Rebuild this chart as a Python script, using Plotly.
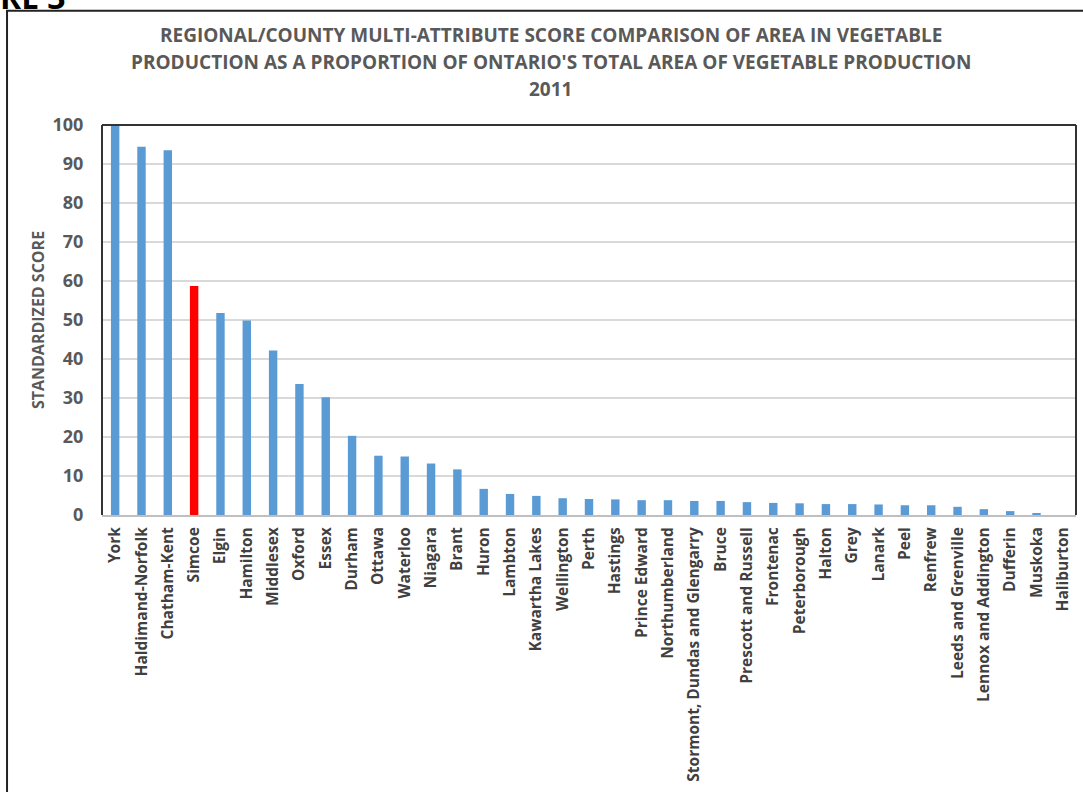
import plotly.graph_objects as go

regions = ["York", "Haldimand-Norfolk", "Chatham-Kent", "Simcoe", "Elgin", "Hamilton",
           "Middlesex", "Oxford", "Essex", "Durham", "Ottawa", "Waterloo", "Niagara",
           "Brant", "Huron", "Lambton", "Kawartha Lakes", "Wellington", "Perth",
           "Hastings", "Prince Edward", "Northumberland", "Stormont, Dundas and Glengarry",
           "Bruce", "Prescott and Russell", "Frontenac", "Peterborough", "Halton", "Grey",
           "Lanark", "Peel", "Renfrew", "Leeds and Grenville", "Lennox and Addington",
           "Dufferin", "Muskoka", "Haliburton"]
scores = [100, 94.4, 93.5, 58.7, 51.8, 49.9, 42.2, 33.6, 30.2, 20.3, 15.2, 15.0, 13.2,
          11.7, 6.7, 5.4, 4.9, 4.3, 4.1, 4.0, 3.8, 3.8, 3.6, 3.6, 3.3, 3.1, 3.0, 2.8,
          2.8, 2.7, 2.5, 2.5, 2.1, 1.5, 1.0, 0.3, 0.0]
highlight = "Simcoe"
y_ticks = [0, 10, 20, 30, 40, 50, 60, 70, 80, 90, 100]
title_lines = ["REGIONAL/COUNTY MULTI-ATTRIBUTE SCORE COMPARISON OF AREA IN VEGETABLE",
               "PRODUCTION AS A PROPORTION OF ONTARIO'S TOTAL AREA OF VEGETABLE PRODUCTION",
               "2011"]

colors = ["#FF0000" if r == highlight else "#5B9BD5" for r in regions]

fig = go.Figure(go.Bar(x=regions, y=scores, marker=dict(color=colors, line=dict(width=0)),
                       hoverinfo="x+y"))

font_fam = "Open Sans, Lato, sans-serif"

annotations = []
for i, line in enumerate(title_lines):
    annotations.append(dict(
        text="<b>" + line + "</b>", xref="paper", yref="paper",
        x=0.4605, y=1.0, yshift=90 - 27 * i, xanchor="center", yanchor="middle",
        showarrow=False, font=dict(size=19, color="#595959", family=font_fam)))
annotations.append(dict(
    text="<b>RE 3</b>", xref="paper", yref="paper", x=0, xshift=-104,
    y=1.0, yshift=129, xanchor="left", yanchor="middle", showarrow=False,
    font=dict(size=32, color="#000000", family=font_fam)))

fig.update_layout(
    width=1083, height=792,
    margin=dict(l=102, r=7, t=125, b=277),
    paper_bgcolor="white", plot_bgcolor="white",
    bargap=0.68,
    showlegend=False,
    font=dict(family=font_fam, color="#595959"),
    annotations=annotations,
    shapes=[
        dict(type="rect", xref="paper", yref="paper", x0=-0.0975, x1=1.05, y0=-0.9, y1=1.293,
             line=dict(color="#222222", width=2), fillcolor="rgba(0,0,0,0)", layer="below"),
        dict(type="line", xref="paper", yref="paper", x0=0, x1=0, y0=0, y1=1,
             line=dict(color="#333333", width=2), layer="above"),
        dict(type="line", xref="paper", yref="paper", x0=0, x1=1, y0=1, y1=1,
             line=dict(color="#333333", width=2), layer="above"),
        dict(type="line", xref="paper", yref="paper", x0=1, x1=1, y0=0, y1=1,
             line=dict(color="#333333", width=2), layer="above"),
    ],
)

fig.update_xaxes(
    type="category", tickangle=-90,
    tickvals=regions, ticktext=["<b>" + r + "</b>" for r in regions],
    tickfont=dict(size=15.5, color="#404040", family=font_fam),
    showline=True, linecolor="#BFBFBF", linewidth=2,
    ticks="outside", ticklen=4, tickcolor="rgba(0,0,0,0)", showgrid=False,
    range=[-0.5, len(regions) - 0.5],
)
fig.update_yaxes(
    range=[0, 100], tickvals=y_ticks, ticktext=["<b>%d</b>" % v for v in y_ticks],
    tickfont=dict(size=18, color="#595959", family=font_fam),
    title=dict(text="<b>STANDARDIZED SCORE</b>", font=dict(size=16, color="#595959", family=font_fam), standoff=3),
    showgrid=True, gridcolor="#D9D9D9", gridwidth=1.5,
    zeroline=False, showline=False, ticks="outside", ticklen=14, tickcolor="rgba(0,0,0,0)",
)

fig.write_html("out.html")
